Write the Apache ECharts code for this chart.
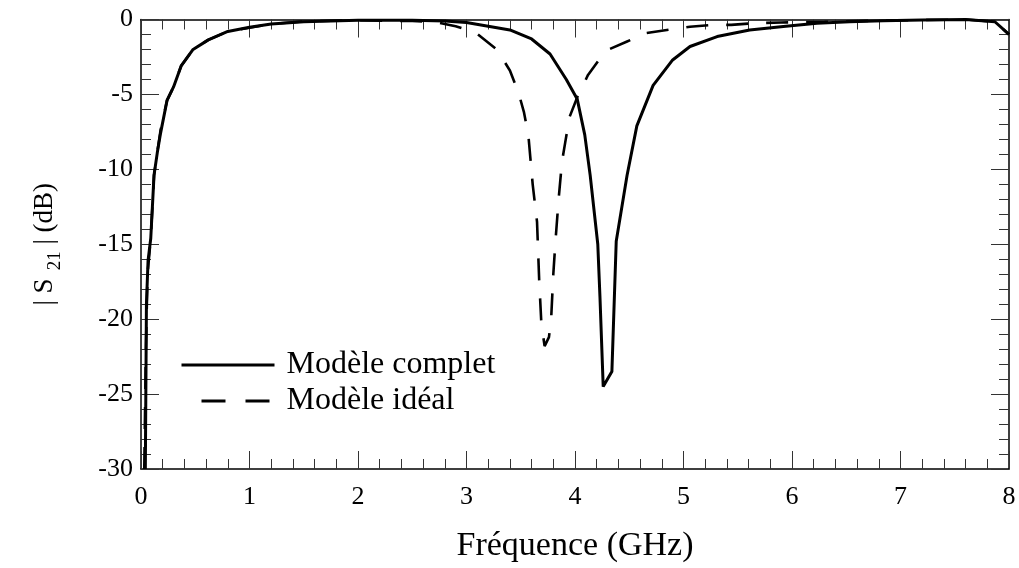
<!DOCTYPE html>
<html>
<head>
<meta charset="utf-8">
<script src="https://cdn.jsdelivr.net/npm/echarts@6/dist/echarts.min.js"></script>
<style>
html,body{margin:0;padding:0;background:#fff;}
#chart{width:1019px;height:568px;}
</style>
</head>
<body>
<div id="chart"></div>
<script>
// ---- Data ----
const seriesNames = ['Modèle complet', 'Modèle idéal'];

const freqComplet = [0.04,0.05,0.065,0.09,0.12,0.15,0.18,0.24,0.3,0.37,0.48,0.62,0.8,1.0,1.2,1.5,2.0,2.5,2.8,3.0,3.2,3.4,3.6,3.77,3.92,4.02,4.09,4.14,4.21,4.23,4.26,4.34,4.38,4.48,4.57,4.72,4.9,5.06,5.31,5.61,5.92,6.23,6.53,6.84,7.2,7.6,7.87,8.0];
const s21Complet  = [-30,-19,-16.1,-14.6,-10.4,-8.9,-7.6,-5.4,-4.5,-3.1,-2.0,-1.36,-0.8,-0.52,-0.3,-0.15,-0.05,-0.05,-0.1,-0.2,-0.45,-0.7,-1.3,-2.3,-4.0,-5.3,-7.7,-10.4,-15.0,-18.5,-24.5,-23.5,-14.8,-10.4,-7.1,-4.4,-2.7,-1.8,-1.14,-0.7,-0.47,-0.25,-0.15,-0.08,-0.03,0,-0.15,-1.0];

const freqIdeal = [0.03,0.045,0.06,0.09,0.12,0.15,0.18,0.24,0.3,0.37,0.48,0.62,0.8,1.0,1.2,1.5,2.0,2.5,2.7,2.9,3.08,3.28,3.4,3.48,3.53,3.57,3.61,3.65,3.67,3.69,3.72,3.76,3.78,3.8,3.82,3.85,3.88,3.91,3.95,4.02,4.12,4.28,4.48,4.66,4.88,5.06,5.26,5.44,5.64,5.9,6.3,6.8,7.2,7.6,7.87,8.0];
const s21Ideal  = [-30,-22,-17,-14.6,-10.4,-8.85,-7.4,-5.4,-4.5,-3.1,-2.0,-1.36,-0.8,-0.55,-0.3,-0.12,-0.05,-0.1,-0.15,-0.45,-0.85,-2.0,-3.4,-4.9,-6.2,-7.7,-11.0,-13.5,-17.4,-20.3,-21.8,-21.2,-20.0,-17.0,-14.8,-11.9,-9.5,-8.2,-6.5,-5.2,-3.7,-2.1,-1.47,-0.9,-0.67,-0.48,-0.36,-0.36,-0.25,-0.2,-0.15,-0.08,-0.03,0,-0.15,-1.0];

const xTicks = {min: 0, max: 8, step: 1};
const yTicks = {min: -30, max: 0, step: 5};
const xTitle = 'Fréquence (GHz)';

// ---- Chart ----
const FONT = "'Liberation Serif','Times New Roman',serif";
const zip = (a, b) => a.map((v, i) => [v, b[i]]);

const tickStyle = {
  axisLine: {show: true, onZero: false, lineStyle: {color: '#000', width: 1.5}},
  axisTick: {show: true, inside: true, length: 18, lineStyle: {color: '#333', width: 1}},
  minorTick: {show: true, splitNumber: 5, length: 10, lineStyle: {color: '#333', width: 1}},
  splitLine: {show: false}
};

const chart = echarts.init(document.getElementById('chart'), null, {renderer: 'canvas'});
chart.setOption({
  backgroundColor: '#fff',
  animation: false,
  textStyle: {fontFamily: FONT},
  grid: {left: 141, right: 10, top: 19.5, bottom: 95, containLabel: false},
  legend: {
    left: 180, top: 349, orient: 'vertical', padding: 0,
    itemWidth: 93, itemHeight: 14, itemGap: 4,
    itemStyle: {opacity: 0},
    lineStyle: {width: 3, color: '#000'},
    textStyle: {fontFamily: FONT, fontSize: 32, color: '#000', lineHeight: 32, padding: [0,0,0,7]},
    data: [
      {name: seriesNames[0], lineStyle: {width: 3, color: '#000', type: 'solid'}},
      {name: seriesNames[1], lineStyle: {width: 3, color: '#000', type: [24, 20], dashOffset: 24}}
    ]
  },
  xAxis: [
    Object.assign({
      type: 'value', position: 'bottom', min: xTicks.min, max: xTicks.max, interval: xTicks.step,
      axisLabel: {fontFamily: FONT, fontSize: 26, color: '#000', margin: 15},
      name: xTitle, nameLocation: 'middle', nameGap: 60,
      nameTextStyle: {fontFamily: FONT, fontSize: 34, color: '#000'}
    }, tickStyle),
    Object.assign({
      type: 'value', position: 'top', min: xTicks.min, max: xTicks.max, interval: xTicks.step,
      axisLabel: {show: false}
    }, tickStyle)
  ],
  yAxis: [
    Object.assign({
      type: 'value', position: 'left', min: yTicks.min, max: yTicks.max, interval: yTicks.step,
      axisLabel: {fontFamily: FONT, fontSize: 26, color: '#000', margin: 8},
      name: '{a|| S}{sub|21}{a| | (dB)}', nameLocation: 'middle', nameGap: 76,
      nameTextStyle: {
        fontFamily: FONT, fontSize: 27, color: '#000',
        rich: {
          a: {fontFamily: FONT, fontSize: 27, color: '#000', lineHeight: 40, verticalAlign: 'middle'},
          sub: {fontFamily: FONT, fontSize: 19, color: '#000', lineHeight: 40, verticalAlign: 'bottom', padding: [0, 0, 0, 8]}
        }
      }
    }, tickStyle),
    Object.assign({
      type: 'value', position: 'right', min: yTicks.min, max: yTicks.max, interval: yTicks.step,
      axisLabel: {show: false}
    }, tickStyle)
  ],
  series: [
    {
      name: seriesNames[0], type: 'line', xAxisIndex: 0, yAxisIndex: 0,
      data: zip(freqComplet, s21Complet),
      showSymbol: false, symbol: 'none', clip: true,
      lineStyle: {color: '#000', width: 3, type: 'solid'},
      itemStyle: {color: '#000'}
    },
    {
      name: seriesNames[1], type: 'line', xAxisIndex: 0, yAxisIndex: 0,
      data: zip(freqIdeal, s21Ideal),
      showSymbol: false, symbol: 'none', clip: true,
      lineStyle: {color: '#000', width: 2.6, type: [22, 18]},
      itemStyle: {color: '#000'}
    }
  ]
});
</script>
</body>
</html>
